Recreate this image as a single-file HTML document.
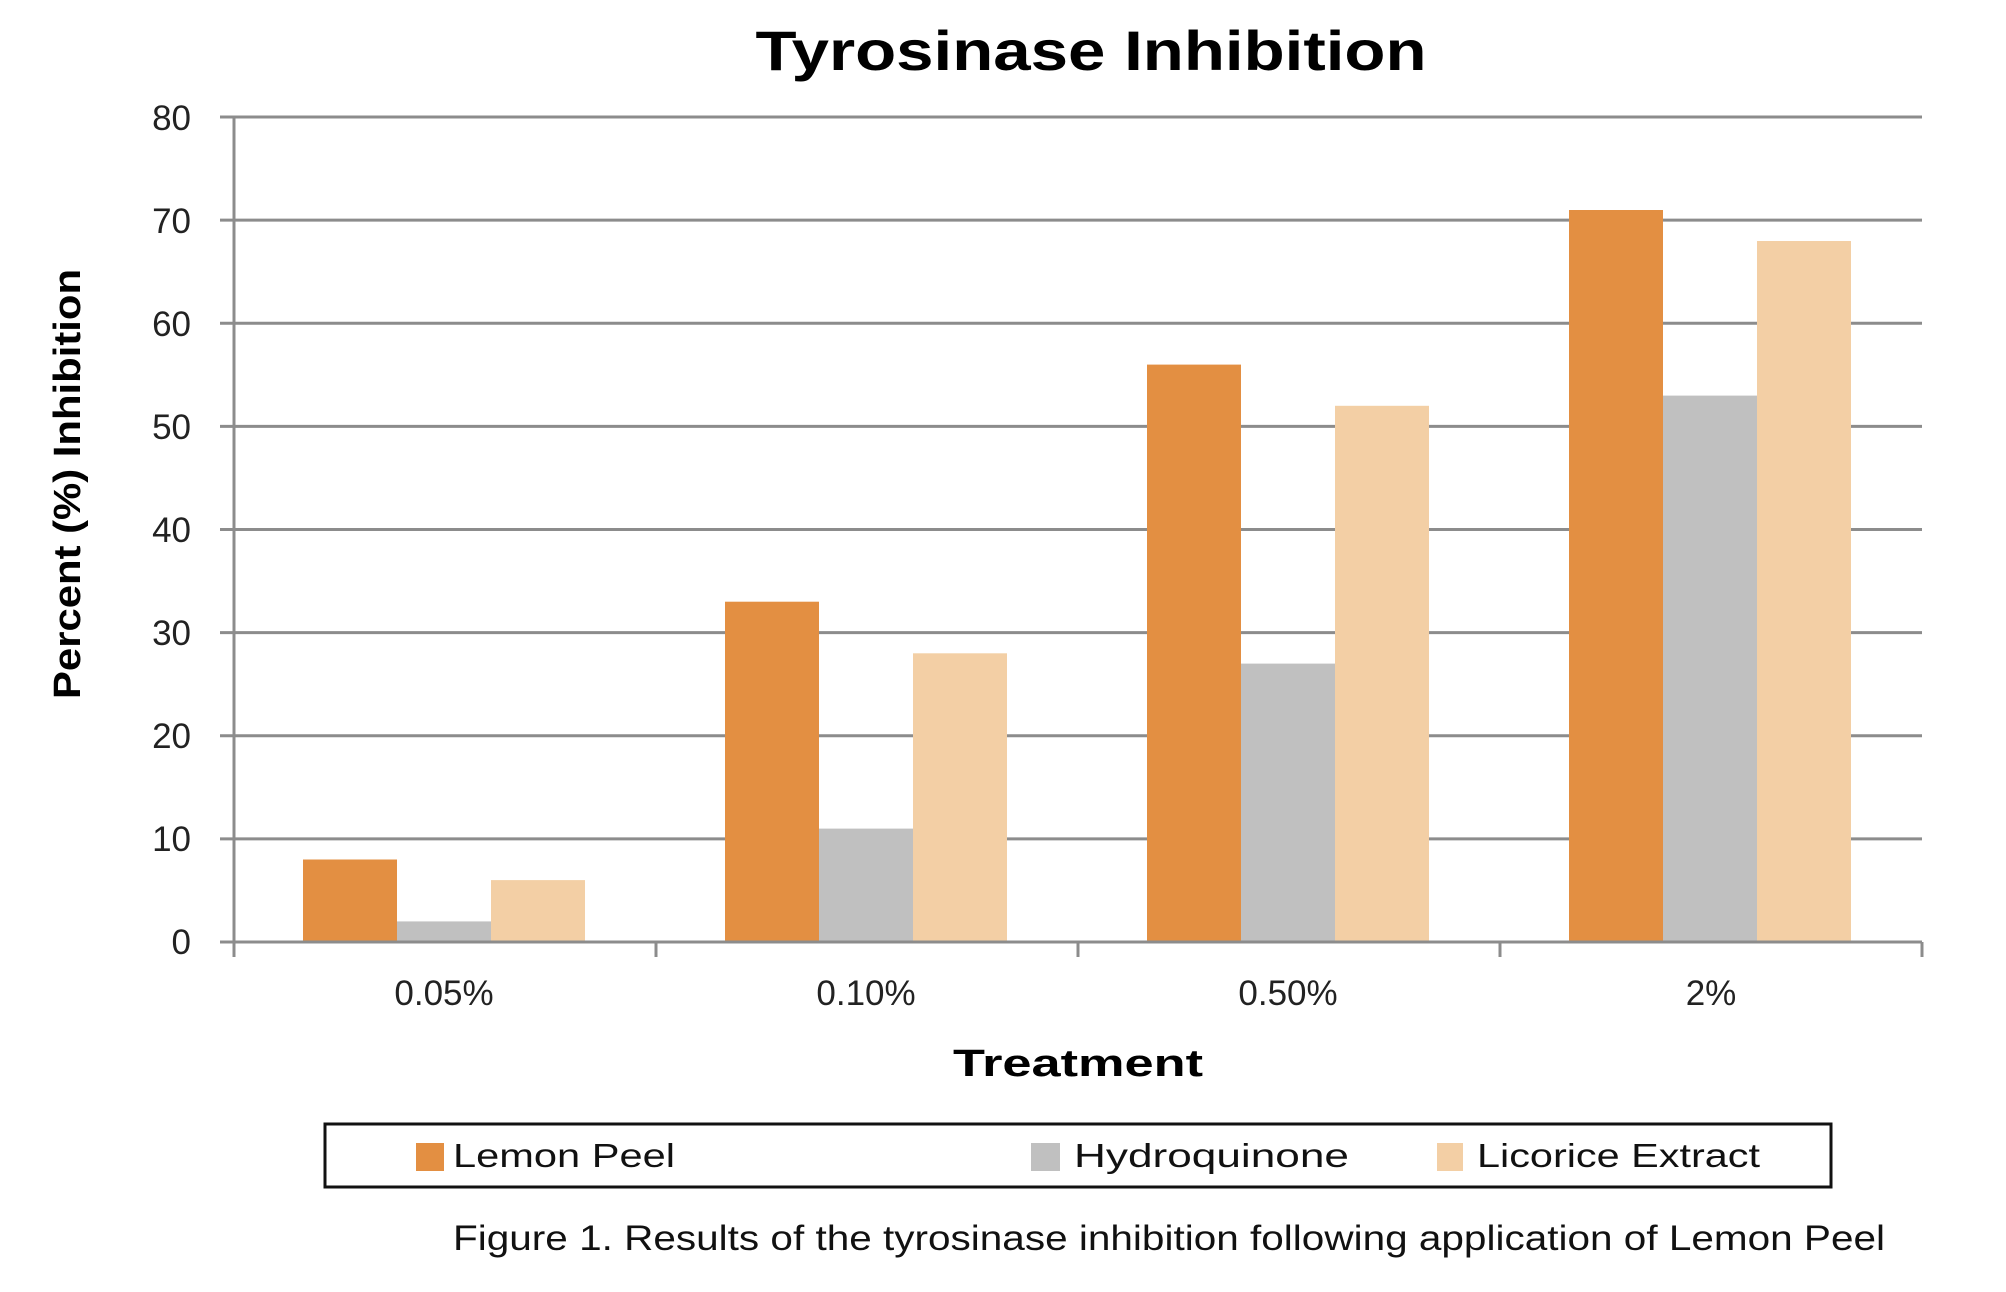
<!DOCTYPE html>
<html><head><meta charset="utf-8"><style>
html,body{margin:0;padding:0;background:#fff;}
svg{display:block;}
text{font-family:"Liberation Sans",sans-serif;}
</style></head><body>
<svg width="2006" height="1292" viewBox="0 0 2006 1292" xmlns="http://www.w3.org/2000/svg">
<rect width="2006" height="1292" fill="#fff"/>
<text x="1091" y="70" font-size="56" font-weight="bold" text-anchor="middle" textLength="671" lengthAdjust="spacingAndGlyphs">Tyrosinase Inhibition</text>
<g stroke="#8c8c8c" stroke-width="3">
<line x1="220" y1="117" x2="1922" y2="117"/>
<line x1="220" y1="220.1" x2="1922" y2="220.1"/>
<line x1="220" y1="323.3" x2="1922" y2="323.3"/>
<line x1="220" y1="426.4" x2="1922" y2="426.4"/>
<line x1="220" y1="529.5" x2="1922" y2="529.5"/>
<line x1="220" y1="632.6" x2="1922" y2="632.6"/>
<line x1="220" y1="735.8" x2="1922" y2="735.8"/>
<line x1="220" y1="838.9" x2="1922" y2="838.9"/>
</g>
<g id="bars">
<rect x="303" y="859.5" width="94" height="82.5" fill="#E38F42"/>
<rect x="397" y="921.4" width="94" height="20.6" fill="#C0C0C0"/>
<rect x="491" y="880.1" width="94" height="61.9" fill="#F3CFA5"/>
<rect x="725" y="601.7" width="94" height="340.3" fill="#E38F42"/>
<rect x="819" y="828.6" width="94" height="113.4" fill="#C0C0C0"/>
<rect x="913" y="653.3" width="94" height="288.7" fill="#F3CFA5"/>
<rect x="1147" y="364.6" width="94" height="577.4" fill="#E38F42"/>
<rect x="1241" y="663.6" width="94" height="278.4" fill="#C0C0C0"/>
<rect x="1335" y="405.8" width="94" height="536.2" fill="#F3CFA5"/>
<rect x="1569" y="210" width="94" height="732" fill="#E38F42"/>
<rect x="1663" y="395.6" width="94" height="546.4" fill="#C0C0C0"/>
<rect x="1757" y="241" width="94" height="701" fill="#F3CFA5"/>
</g>
<g stroke="#8c8c8c" stroke-width="3">
<line x1="234" y1="117" x2="234" y2="957"/>
<line x1="220" y1="942" x2="1922" y2="942"/>
<line x1="656" y1="942" x2="656" y2="957"/>
<line x1="1078" y1="942" x2="1078" y2="957"/>
<line x1="1500" y1="942" x2="1500" y2="957"/>
<line x1="1922" y1="942" x2="1922" y2="957"/>
</g>
<g font-size="35" text-anchor="end" fill="#222">
<text x="191" y="130">80</text>
<text x="191" y="233">70</text>
<text x="191" y="336">60</text>
<text x="191" y="439">50</text>
<text x="191" y="542">40</text>
<text x="191" y="645">30</text>
<text x="191" y="748">20</text>
<text x="191" y="851">10</text>
<text x="191" y="954">0</text>
</g>
<g font-size="35" text-anchor="middle" fill="#222">
<text x="444" y="1005">0.05%</text>
<text x="866" y="1005">0.10%</text>
<text x="1288" y="1005">0.50%</text>
<text x="1711" y="1005">2%</text>
</g>
<text x="1078" y="1076" font-size="38" font-weight="bold" text-anchor="middle" textLength="250" lengthAdjust="spacingAndGlyphs">Treatment</text>
<text transform="translate(80,484) rotate(-90)" font-size="38" font-weight="bold" text-anchor="middle" textLength="430" lengthAdjust="spacingAndGlyphs">Percent (%) Inhibition</text>
<rect x="325" y="1124" width="1506" height="63" fill="none" stroke="#111" stroke-width="3"/>
<rect x="416" y="1143" width="28" height="28" fill="#E38F42"/>
<rect x="1031" y="1143" width="29" height="28" fill="#C0C0C0"/>
<rect x="1437" y="1143" width="26" height="28" fill="#F3CFA5"/>
<g font-size="33" fill="#111">
<text x="453" y="1167" textLength="222" lengthAdjust="spacingAndGlyphs">Lemon Peel</text>
<text x="1074" y="1167" textLength="275" lengthAdjust="spacingAndGlyphs">Hydroquinone</text>
<text x="1477" y="1167" textLength="283" lengthAdjust="spacingAndGlyphs">Licorice Extract</text>
</g>
<text x="453" y="1250" font-size="35" fill="#111" textLength="1432" lengthAdjust="spacingAndGlyphs">Figure 1.  Results of the tyrosinase inhibition following application of Lemon Peel</text>
</svg>
</body></html>
